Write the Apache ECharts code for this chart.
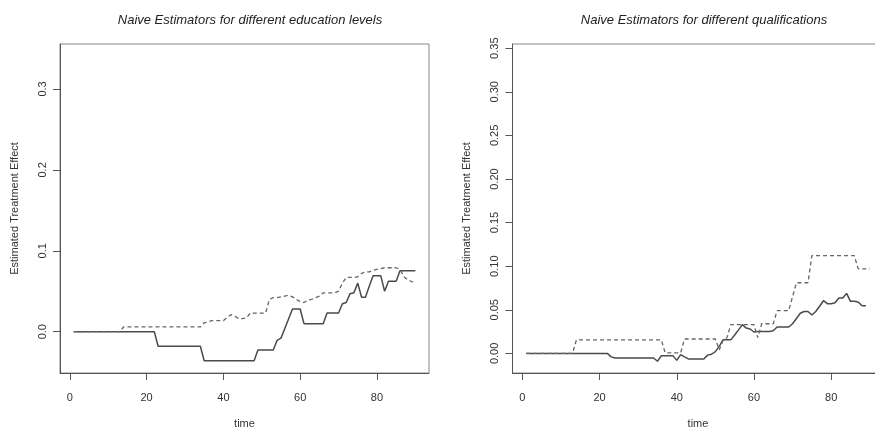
<!DOCTYPE html>
<html>
<head>
<meta charset="utf-8">
<script src="https://cdn.jsdelivr.net/npm/echarts@6/dist/echarts.min.js"></script>
<style>html,body{margin:0;padding:0;background:#fff}#c{width:875px;height:430px}</style>
</head>
<body>
<div id="c"></div>
<script>
// time points 1..90
const time = [1,2,3,4,5,6,7,8,9,10,11,12,13,14,15,16,17,18,19,20,21,22,23,24,25,26,27,28,29,30,31,32,33,34,35,36,37,38,39,40,41,42,43,44,45,46,47,48,49,50,51,52,53,54,55,56,57,58,59,60,61,62,63,64,65,66,67,68,69,70,71,72,73,74,75,76,77,78,79,80,81,82,83,84,85,86,87,88,89,90];

// Left panel: education levels
const eduSolid = [0,0,0,0,0,0,0,0,0,0,0,0,0,0,0,0,0,0,0,0,0,0,
  -0.018,-0.018,-0.018,-0.018,-0.018,-0.018,-0.018,-0.018,-0.018,-0.018,-0.018,-0.018,
  -0.036,-0.036,-0.036,-0.036,-0.036,-0.036,-0.036,-0.036,-0.036,-0.036,-0.036,-0.036,-0.036,-0.036,
  -0.0227,-0.0227,-0.0227,-0.0227,-0.0227,
  -0.0107,-0.008,0.004,0.016,
  0.028,0.028,0.028,
  0.0099,0.0099,0.0099,0.0099,0.0099,0.0099,
  0.023,0.023,0.023,0.023,
  0.0346,0.036,0.047,0.048,0.060,0.0425,0.0425,0.056,
  0.069,0.069,0.069,0.050,0.0622,0.0622,0.0622,
  0.0754,0.0754,0.0754,0.0754,0.0754];
const eduDashed = [0,0,0,0,0,0,0,0,0,0,0,0,0,
  0.0058,0.0058,0.0058,0.0058,0.0058,0.0058,0.0058,0.0058,0.0058,0.0058,0.0058,0.0058,0.0058,0.0058,0.0058,0.0058,0.0058,0.0058,0.0058,0.0058,0.0058,
  0.011,0.012,0.0136,0.0136,0.0136,0.0136,
  0.018,0.021,0.019,0.016,0.016,0.017,
  0.023,0.023,0.023,0.023,0.023,
  0.040,0.042,0.042,0.043,0.044,0.045,0.043,0.040,0.037,0.036,
  0.039,0.040,0.042,0.044,
  0.048,0.048,0.048,0.048,0.050,0.060,
  0.067,0.067,0.067,0.068,0.072,0.074,0.074,0.076,0.077,0.078,
  0.079,0.079,0.079,0.079,0.077,0.068,0.064,0.062,0.060];

// Right panel: qualifications
const qualSolid = [0,0,0,0,0,0,0,0,0,0,0,0,0,0,0,0,0,0,0,0,0,0,
  -0.004,-0.0053,-0.0053,-0.0053,-0.0053,-0.0053,-0.0053,-0.0053,-0.0053,-0.0053,-0.0053,-0.0053,
  -0.009,-0.0026,-0.0026,-0.0026,-0.0026,-0.008,-0.0015,-0.004,
  -0.0064,-0.0064,-0.0064,-0.0064,-0.0064,
  -0.002,-0.001,0.002,0.008,0.0155,0.0155,0.0155,0.021,0.027,0.033,0.029,0.028,
  0.0245,0.025,0.025,0.025,0.025,0.026,
  0.0303,0.0303,0.0303,0.0303,0.034,0.040,0.046,0.048,0.048,0.044,0.048,0.054,0.0604,
  0.057,0.057,0.058,0.0635,0.0635,0.0688,0.0597,0.0597,0.059,0.0547,0.0547];
const qualDashed = [0,0,0,0,0,0,0,0,0,0,0,0,0,
  0.0155,0.0155,0.0155,0.0155,0.0155,0.0155,0.0155,0.0155,0.0155,0.0155,0.0155,0.0155,0.0155,0.0155,0.0155,0.0155,0.0155,0.0155,0.0155,0.0155,0.0155,0.0155,0.0155,
  0.0005,0.0005,0.0005,0.0005,0.0005,
  0.0165,0.0165,0.0165,0.0165,0.0165,0.0165,0.0165,0.0165,0.0165,
  0.004,0.015,0.018,
  0.033,0.033,0.033,0.033,0.033,0.033,0.033,
  0.018,0.034,0.034,0.034,0.034,
  0.049,0.049,0.049,0.049,0.065,
  0.081,0.081,0.081,0.081,
  0.112,0.112,0.112,0.112,0.112,0.112,0.112,0.112,0.112,0.112,0.112,0.112,
  0.097,0.097,0.097,0.097];

const xTicks = [0,20,40,60,80];
const eduYTicks = [0,0.1,0.2,0.3];
const qualYTicks = [0,0.05,0.1,0.15,0.2,0.25,0.3,0.35];

const titles = ['Naive Estimators for different education levels','Naive Estimators for different qualifications'];
const xName = 'time';
const yName = 'Estimated Treatment Effect';

const pairs = (ys) => time.map((t,i)=>[t, ys[i]]);
const FONT = '"Liberation Sans", Arial, Helvetica, sans-serif';
const TXT = '#333';

function xAxisFor(gi){
  return {
    type:'value', gridIndex:gi, min:-2.56, max:93.56,
    name:xName, nameLocation:'middle', nameGap:45,
    nameTextStyle:{fontFamily:FONT,fontSize:11,color:TXT},
    axisLine:{show:true,onZero:false,lineStyle:{color:'#555',width:1}},
    axisTick:{show:true,inside:false,length:7,lineStyle:{color:'#555'},customValues:xTicks},
    axisLabel:{show:true,margin:19,fontFamily:FONT,fontSize:11,color:TXT,customValues:xTicks,
      formatter:(v)=>String(Math.round(v))},
    splitLine:{show:false}
  };
}
function yAxisFor(gi,min,max,ticks,dec){
  return {
    type:'value', gridIndex:gi, min:min, max:max,
    name:yName, nameLocation:'middle', nameRotate:90, nameGap:40,
    nameTextStyle:{fontFamily:FONT,fontSize:11,color:TXT},
    axisLine:{show:true,onZero:false,lineStyle:{color:'#555',width:1}},
    axisTick:{show:true,inside:false,length:7,lineStyle:{color:'#555'},customValues:ticks},
    axisLabel:{show:true,rotate:90,margin:12,fontFamily:FONT,fontSize:11,color:TXT,customValues:ticks,
      formatter:(v)=>Number(v).toFixed(dec)},
    splitLine:{show:false}
  };
}
function lineSeries(gi,ys,dashed){
  return {
    type:'line', xAxisIndex:gi, yAxisIndex:gi, data:pairs(ys), symbol:'none',
    lineStyle: dashed ? {color:'#666',width:1.3,type:[4,3]} : {color:'#4a4a4a',width:1.5},
    silent:true
  };
}

const chart = echarts.init(document.getElementById('c'), null, {renderer:'canvas'});
chart.setOption({
  animation:false,
  backgroundColor:'#fff',
  title:[
    {text:titles[0], left:245, top:9, textAlign:'center', textStyle:{fontFamily:FONT,fontSize:13,fontStyle:'italic',fontWeight:'normal',color:'#222'}},
    {text:titles[1], left:699, top:9, textAlign:'center', textStyle:{fontFamily:FONT,fontSize:13,fontStyle:'italic',fontWeight:'normal',color:'#222'}}
  ],
  grid:[
    {left:60, right:446, top:44, bottom:57, show:true, borderColor:'#888', borderWidth:1, containLabel:false, outerBoundsMode:'none'},
    {left:512.5, right:-8.5, top:44, bottom:57, show:true, borderColor:'#888', borderWidth:1, containLabel:false, outerBoundsMode:'none'}
  ],
  xAxis:[xAxisFor(0), xAxisFor(1)],
  yAxis:[yAxisFor(0,-0.0511,0.3556,eduYTicks,1), yAxisFor(1,-0.0225,0.3548,qualYTicks,2)],
  series:[
    lineSeries(0,eduSolid,false), lineSeries(0,eduDashed,true),
    lineSeries(1,qualSolid,false), lineSeries(1,qualDashed,true)
  ]
});
</script>
</body>
</html>
